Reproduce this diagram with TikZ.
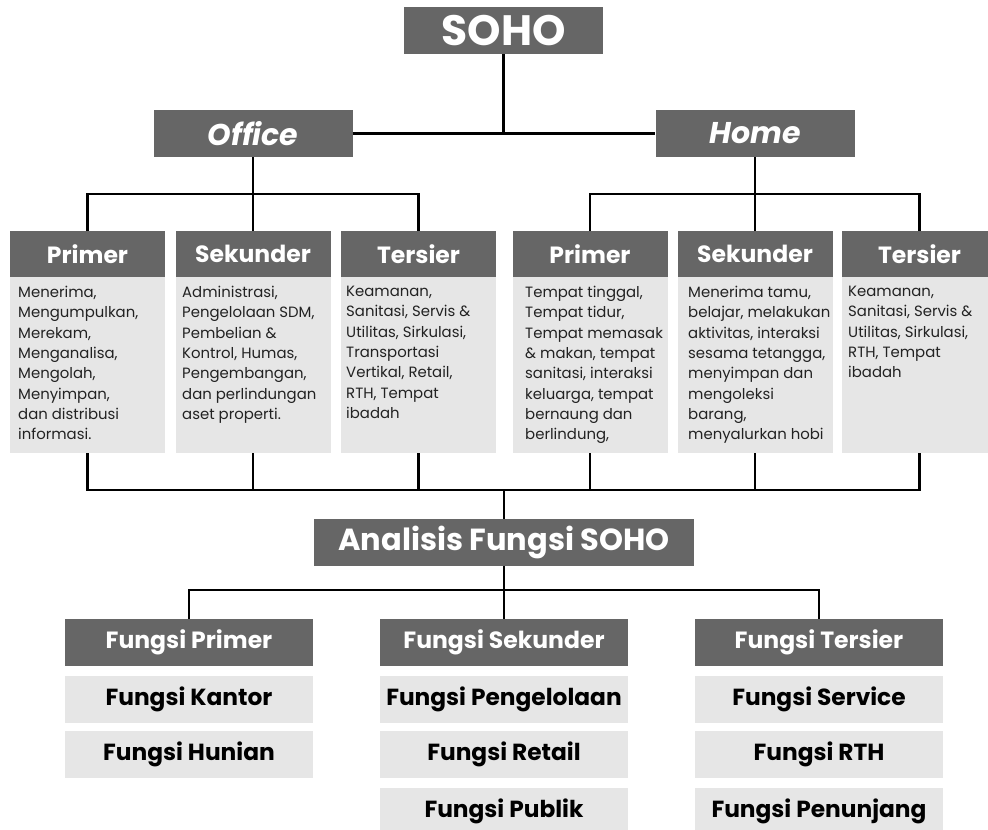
\documentclass[tikz,border=0pt]{standalone}
\usepackage{fontspec}
\setmainfont{Poppins}
\definecolor{boxdark}{HTML}{666666}
\definecolor{boxlight}{HTML}{E6E6E6}
\definecolor{bodytext}{HTML}{222222}
\begin{document}
\begin{tikzpicture}[x=1pt,y=-1pt,
  dark/.style={fill=boxdark,draw=none,text=white,inner sep=0pt},
  light/.style={fill=boxlight,draw=none,text=black,inner sep=0pt},
  title/.style={dark,font=\fontsize{42.5}{44}\selectfont\bfseries},
  branch/.style={dark,minimum width=199pt,minimum height=47pt,font=\fontsize{30}{32}\selectfont\bfseries\itshape},
  colhead/.style={dark,minimum width=155pt,minimum height=46pt,font=\fontsize{23.5}{26}\selectfont\bfseries},
  colbody/.style={light,minimum width=155pt,minimum height=176pt},
  bodytxt/.style={anchor=north west,align=left,inner sep=0pt,text=bodytext,font=\fontsize{14.9}{20.3}\selectfont},
  funchead/.style={dark,minimum width=248pt,minimum height=47pt,font=\fontsize{23.5}{26}\selectfont\bfseries},
  funcitem/.style={light,minimum width=248pt,minimum height=47pt,font=\fontsize{23.3}{26}\selectfont\bfseries},
  conn/.style={line width=2.6pt,draw=black}
]
\useasboundingbox (0,0) rectangle (988,830);

% top level
\node[title,minimum width=199pt,minimum height=47pt] (soho) at (503.5,30.5) {SOHO};
\node[branch] (office) at (253,133.5) {Office};
\node[branch] (home) at (755,133.5) {Home};

% function columns: headers
\node[colhead] (h1) at (87.5,254) {Primer};
\node[colhead] (h2) at (253,254) {Sekunder};
\node[colhead] (h3) at (418.5,254) {Tersier};
\node[colhead] (h4) at (590,254) {Primer};
\node[colhead] (h5) at (755,254) {Sekunder};
\node[colhead] (h6) at (919.5,254) {Tersier};

% function columns: bodies
\node[colbody] (b1) at (87.5,365) {};
\node[colbody] (b2) at (253,365) {};
\node[colbody] (b3) at (418.5,365) {};
\node[colbody] (b4) at (590,365) {};
\node[colbody] (b5) at (755,365) {};
\node[colbody] (b6) at (919.5,365) {};

\node[bodytxt] (t1) at (18,286) {Menerima,\\Mengumpulkan,\\Merekam,\\Menganalisa,\\Mengolah,\\Menyimpan,\\dan distribusi\\informasi.};
\node[bodytxt] (t2) at (182,286) {Administrasi,\\Pengelolaan SDM,\\Pembelian \&\\Kontrol, Humas,\\Pengembangan,\\dan perlindungan\\aset properti.};
\node[bodytxt] (t3) at (346,286) {Keamanan,\\Sanitasi, Servis \&\\Utilitas, Sirkulasi,\\Transportasi\\Vertikal, Retail,\\RTH, Tempat\\ibadah};
\node[bodytxt] (t4) at (525,286) {Tempat tinggal,\\Tempat tidur,\\Tempat memasak\\\& makan, tempat\\sanitasi, interaksi\\keluarga, tempat\\bernaung dan\\berlindung,};
\node[bodytxt] (t5) at (688,286) {Menerima tamu,\\belajar, melakukan\\aktivitas, interaksi\\sesama tetangga,\\menyimpan dan\\mengoleksi\\barang,\\menyalurkan hobi};
\node[bodytxt] (t6) at (848,286) {Keamanan,\\Sanitasi, Servis \&\\Utilitas, Sirkulasi,\\RTH, Tempat\\ibadah};

% analysis
\node[title,minimum width=380pt,minimum height=47pt,font=\fontsize{30.5}{32}\selectfont\bfseries] (analisis) at (504,542.5) {Analisis Fungsi SOHO};

\node[funchead] (fp) at (189,642.5) {Fungsi Primer};
\node[funchead] (fs) at (504,642.5) {Fungsi Sekunder};
\node[funchead] (ft) at (819,642.5) {Fungsi Tersier};

\node[funcitem] (fp1) at (189,699.5) {Fungsi Kantor};
\node[funcitem] (fp2) at (189,754.5) {Fungsi Hunian};
\node[funcitem] (fs1) at (504,699.5) {Fungsi Pengelolaan};
\node[funcitem] (fs2) at (504,754.5) {Fungsi Retail};
\node[funcitem] (fs3) at (504,811.5) {Fungsi Publik};
\node[funcitem] (ft1) at (819,699.5) {Fungsi Service};
\node[funcitem] (ft2) at (819,754.5) {Fungsi RTH};
\node[funcitem] (ft3) at (819,811.5) {Fungsi Penunjang};

% connectors
\coordinate (jtop) at (503.5,133.5);
\coordinate (busO) at (253,194);
\coordinate (busH) at (755,194);
\coordinate (busB) at (504,490);
\coordinate (busF) at (504,590);

\draw[conn] (soho.south) -- (jtop);
\draw[conn] (office.east) -- (home.west);

\draw[conn] (office.south) -- (busO);
\draw[conn] (h1.north) -- (h1.north |- busO) -- (h3.north |- busO) -- (h3.north);
\draw[conn] (busO) -- (h2.north);
\draw[conn] (home.south) -- (busH);
\draw[conn] (h4.north) -- (h4.north |- busH) -- (h6.north |- busH) -- (h6.north);
\draw[conn] (busH) -- (h5.north);

\draw[conn] (b1.south) -- (b1.south |- busB) -- (b6.south |- busB) -- (b6.south);
\draw[conn] (b2.south) -- (b2.south |- busB);
\draw[conn] (b3.south) -- (b3.south |- busB);
\draw[conn] (b4.south) -- (b4.south |- busB);
\draw[conn] (b5.south) -- (b5.south |- busB);
\draw[conn] (busB) -- (analisis.north);

\draw[conn] (analisis.south) -- (busF);
\draw[conn] (fp.north) -- (fp.north |- busF) -- (ft.north |- busF) -- (ft.north);
\draw[conn] (busF) -- (fs.north);
\end{tikzpicture}
\end{document}
